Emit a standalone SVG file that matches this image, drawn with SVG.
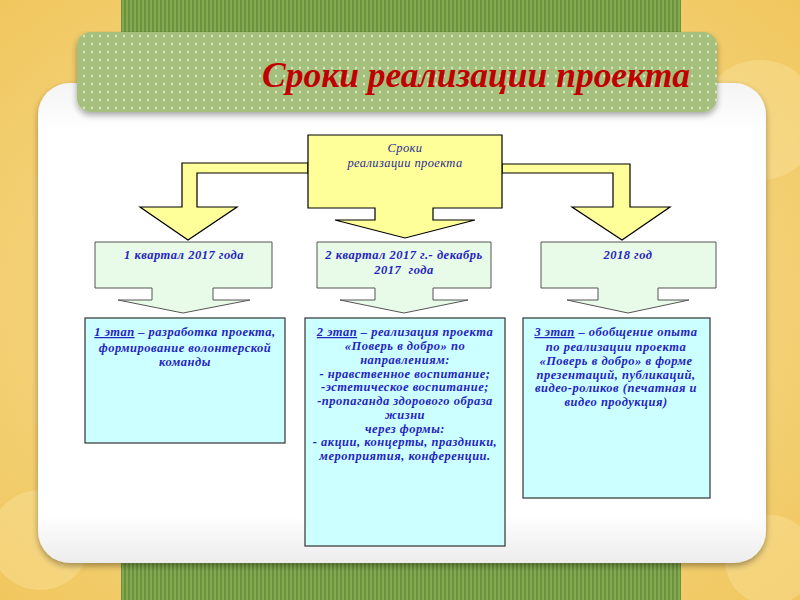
<svg xmlns="http://www.w3.org/2000/svg" width="800" height="600" viewBox="0 0 800 600">
<defs>
<radialGradient id="bgGrad" cx="0.5" cy="0.5" r="0.75">
<stop offset="0" stop-color="#f8e3a0"/>
<stop offset="1" stop-color="#f0c55a"/>
</radialGradient>
<pattern id="stripes" width="4" height="10" patternUnits="userSpaceOnUse">
<rect width="4" height="10" fill="#84a94f"/>
<rect width="2" height="10" fill="#6a9140"/>
</pattern>
<pattern id="dots" width="8" height="8" patternUnits="userSpaceOnUse">
<rect width="8" height="8" fill="#a4c07c"/>
<ellipse cx="4" cy="4" rx="1.1" ry="1.4" fill="#d8e6c2"/>
</pattern>
<linearGradient id="panelGrad" x1="0" y1="0" x2="0" y2="1">
<stop offset="0" stop-color="#f4f4f4"/>
<stop offset="0.1" stop-color="#ffffff"/>
<stop offset="0.9" stop-color="#ffffff"/>
<stop offset="1" stop-color="#ececec"/>
</linearGradient>
<filter id="shadow" x="-5%" y="-5%" width="110%" height="120%">
<feGaussianBlur in="SourceAlpha" stdDeviation="3"/>
<feOffset dx="0" dy="3" result="b"/>
<feComponentTransfer><feFuncA type="linear" slope="0.35"/></feComponentTransfer>
<feMerge><feMergeNode/><feMergeNode in="SourceGraphic"/></feMerge>
</filter>
</defs>
<style>
.yel{fill:#ffff99;stroke:#000;stroke-width:1.2}
.grn{fill:#e8fae8;stroke:#555;stroke-width:1}
.cyan{fill:#ccffff;stroke:#333;stroke-width:1.2}
.t{font-family:"Liberation Serif","Times New Roman",serif;font-style:italic;font-weight:bold;font-size:12.5px;letter-spacing:0.5px;fill:#2424c0;text-anchor:middle}
.h{font-family:"Liberation Serif","Times New Roman",serif;font-style:italic;font-size:12.5px;letter-spacing:0.4px;fill:#2b2b90;text-anchor:middle}
.title{font-family:"Liberation Serif","Times New Roman",serif;font-style:italic;font-weight:bold;font-size:36px;fill:#c00000}
</style>
<!-- background -->
<rect width="800" height="600" fill="url(#bgGrad)"/>
<circle cx="760" cy="120" r="60" fill="#fbe7a8" opacity="0.35"/>
<circle cx="40" cy="540" r="50" fill="#fbe7a8" opacity="0.35"/>
<circle cx="770" cy="560" r="45" fill="#fbe7a8" opacity="0.35"/>
<rect x="121" y="0" width="560" height="600" fill="url(#stripes)"/>
<rect x="38" y="83" width="728" height="480" rx="32" fill="url(#panelGrad)" filter="url(#shadow)"/>
<rect x="77" y="32" width="640" height="80" rx="14" fill="url(#dots)" filter="url(#shadow)"/>
<text class="title" x="262" y="87" textLength="428" lengthAdjust="spacingAndGlyphs">Сроки реализации проекта</text>

<g id="connectors">
<path class="yel" d="M308,163 H182 V207 H140 L188,240 L237,207 H197 V173 H308 Z"/>
<path class="yel" d="M502,164 H630 V207 H670 L622,240 L572,207 H613 V173 H502 Z"/>
</g>

<g id="root">
<path class="yel" d="M308,135 H502 V208 H433 V220 H475 L405,238 L335,220 H375 V208 H308 Z"/>
<text class="h" x="405" y="152">Сроки</text>
<text class="h" x="405" y="167">реализации проекта</text>
</g>

<g id="q1">
<path class="grn" d="M95,242 H272 V288 H213 V300 H250 L183,313 L118,300 H152 V288 H95 Z"/>
<text class="t" x="184" y="259">1 квартал 2017 года</text>
</g>
<g id="q2">
<path class="grn" d="M317,242 H491 V288 H433 V300 H468 L404,313 L340,300 H375 V288 H317 Z"/>
<text class="t" x="404" y="259">2 квартал 2017 г.- декабрь</text>
<text class="t" x="404" y="274" xml:space="preserve">2017  года</text>
</g>
<g id="q3">
<path class="grn" d="M541,242 H716 V288 H658 V300 H689 L628,313 L567,300 H598 V288 H541 Z"/>
<text class="t" x="628" y="259">2018 год</text>
</g>

<g id="stage1">
<rect class="cyan" x="85" y="318" width="200" height="125"/>
<text class="t" x="185" y="336"><tspan text-decoration="underline">1 этап</tspan> – разработка проекта,</text>
<text class="t" x="185" y="352">формирование волонтерской</text>
<text class="t" x="185" y="366">команды</text>
</g>
<g id="stage2">
<rect class="cyan" x="305" y="318" width="200" height="228"/>
<text class="t" x="405" y="336"><tspan text-decoration="underline">2 этап</tspan> – реализация проекта</text>
<text class="t" x="405" y="350">«Поверь в добро» по</text>
<text class="t" x="405" y="364">направлениям:</text>
<text class="t" x="405" y="378">- нравственное воспитание;</text>
<text class="t" x="405" y="391">-эстетическое воспитание;</text>
<text class="t" x="405" y="405">-пропаганда здорового образа</text>
<text class="t" x="405" y="419">жизни</text>
<text class="t" x="405" y="433">через формы:</text>
<text class="t" x="405" y="446">- акции, концерты, праздники,</text>
<text class="t" x="405" y="460">мероприятия, конференции.</text>
</g>
<g id="stage3">
<rect class="cyan" x="523" y="318" width="187" height="180"/>
<text class="t" x="616" y="336"><tspan text-decoration="underline">3 этап</tspan> – обобщение опыта</text>
<text class="t" x="616" y="351">по реализации проекта</text>
<text class="t" x="616" y="365">«Поверь в добро» в форме</text>
<text class="t" x="616" y="379">презентаций, публикаций,</text>
<text class="t" x="616" y="392">видео-роликов (печатная и</text>
<text class="t" x="616" y="406">видео продукция)</text>
</g>
</svg>
